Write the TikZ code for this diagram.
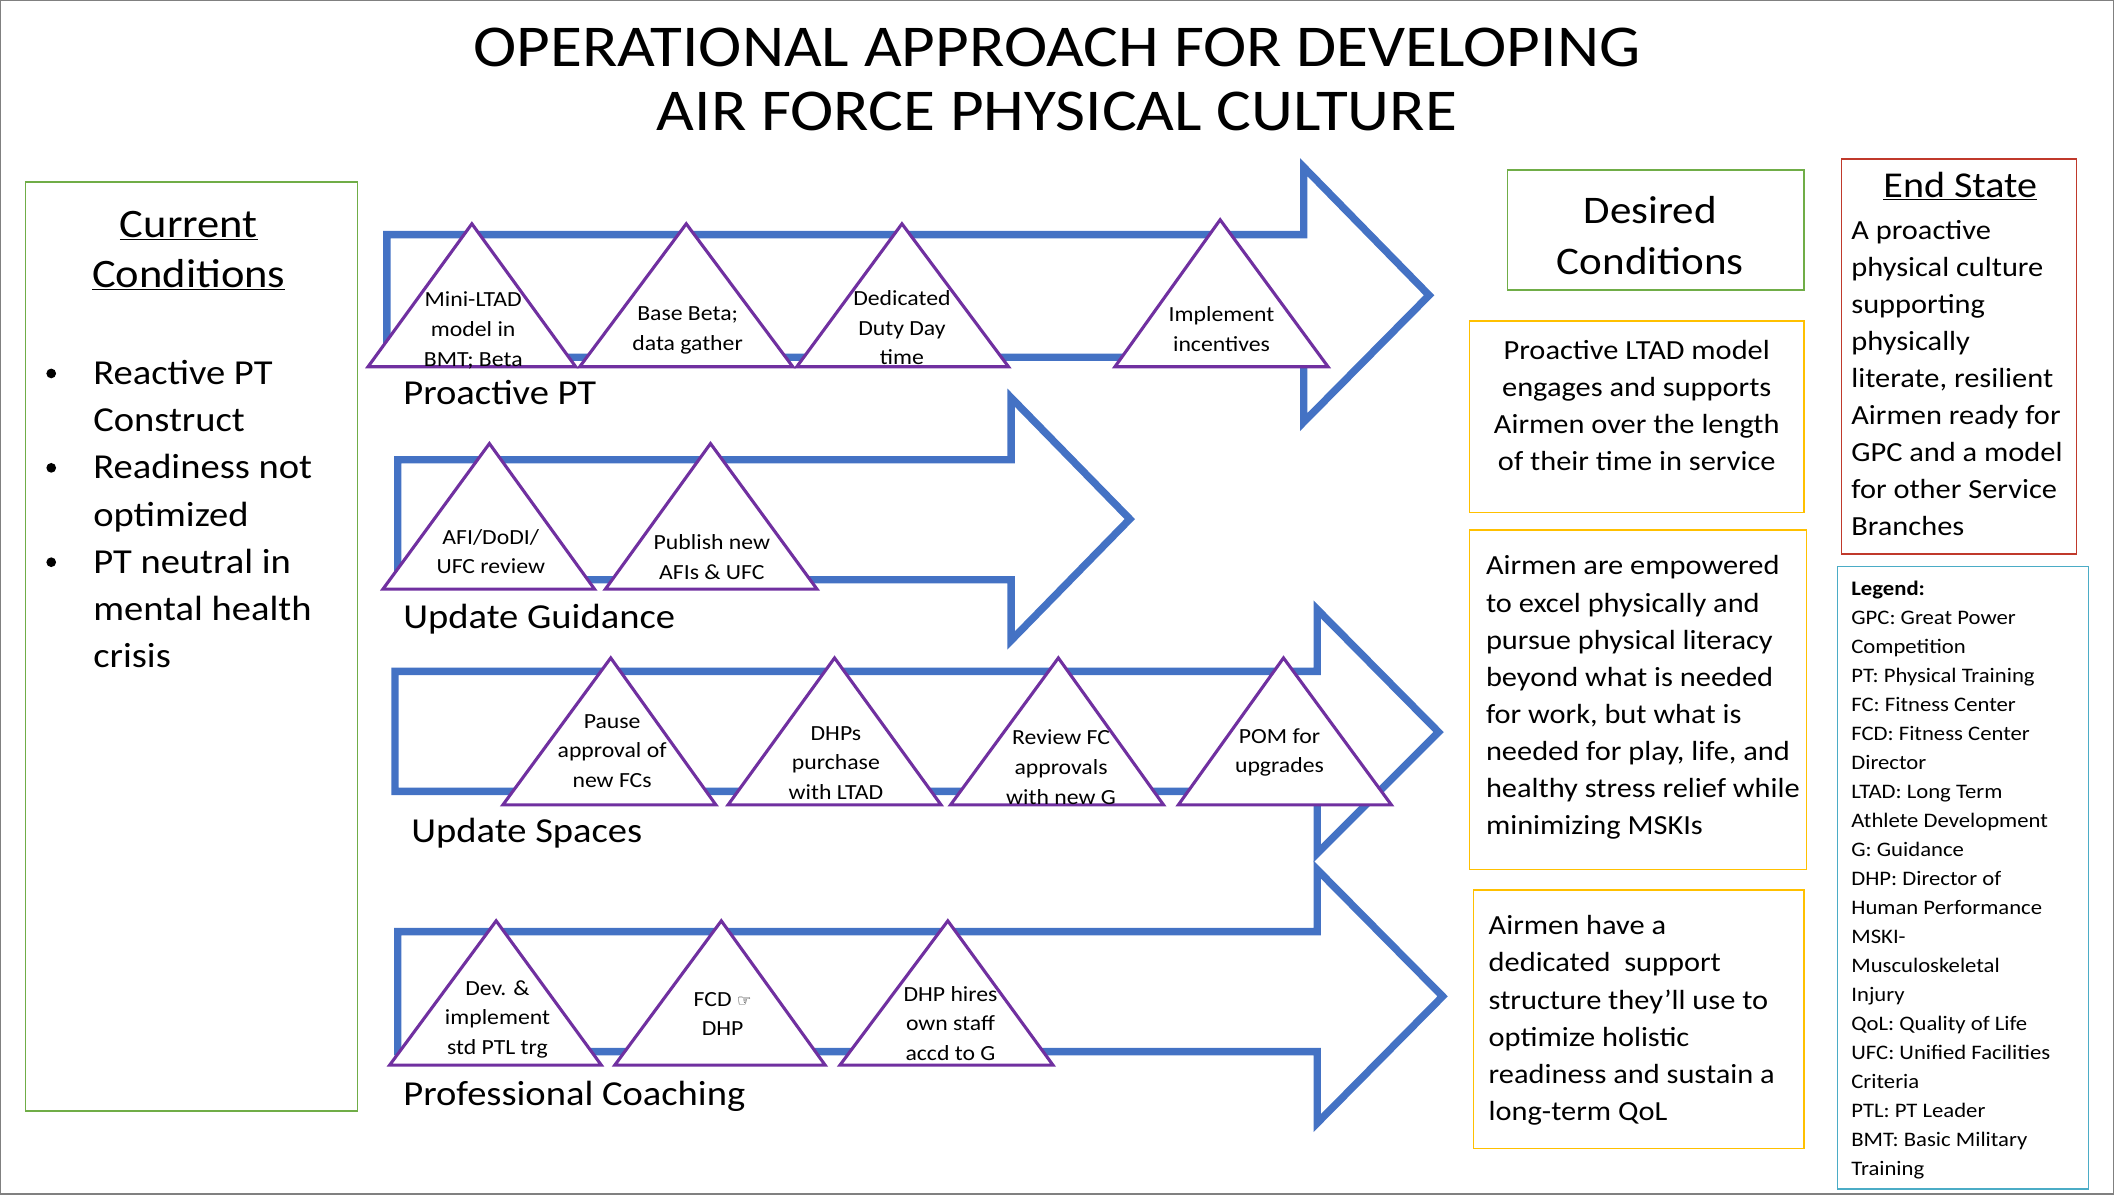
\documentclass[tikz,border=0pt]{standalone}
\usepackage{fontspec}
\setmainfont{Carlito}[FakeStretch=1.1]
\newfontfamily\djfont{DejaVu Sans}
\begin{document}
\begin{tikzpicture}[x=1pt,y=-1pt,
  arr/.style={draw={rgb,255:red,68;green,114;blue,196},line width=5.5pt},
  tri/.style={draw={rgb,255:red,112;green,48;blue,160},line width=2.3pt,fill=white,line join=miter},
  tt/.style={align=center,font=\fontsize{16}{22}\selectfont,inner sep=0pt},
  lab/.style={anchor=west,font=\fontsize{26}{30}\selectfont,inner sep=0pt},
  obox/.style={draw={rgb,255:red,255;green,192;blue,0},line width=1pt},
  btxt/.style={anchor=north west,align=left,font=\fontsize{20.5}{27.5}\selectfont,inner sep=0pt}]
\useasboundingbox (0,0) rectangle (1568,886);
\draw[gray,line width=1pt] (0.5,0.5) rectangle (1567.5,885.5);
\node[font=\fontsize{44}{48}\selectfont,align=center] (title) at (784,59) {OPERATIONAL APPROACH FOR DEVELOPING\\AIR FORCE PHYSICAL CULTURE};
% left box
\draw[draw={rgb,255:red,112;green,173;blue,71},line width=1pt] (19,135) rectangle (265,824);
\node[font=\fontsize{30}{37}\selectfont,align=center] (cc) at (140,186) {\underline{Current}\\\underline{Conditions}};
\node[anchor=north west,align=left,font=\fontsize{26}{35}\selectfont,inner sep=0pt] (bul) at (69,267)
 {Reactive PT\\Construct\\Readiness not\\optimized\\PT neutral in\\mental health\\crisis};
\foreach \yy in {277,347,417} \fill (38,\yy) circle (3.6);
% arrows
\draw[arr] (287,174) -- (967,174) -- (967,124) -- (1060,219) -- (967,313) -- (967,265) -- (287,265) -- cycle;
\draw[arr] (295,341) -- (750,341) -- (750,295) -- (838,385) -- (750,475) -- (750,430) -- (295,430) -- cycle;
\draw[arr] (293,498) -- (977,498) -- (977,452) -- (1067,543) -- (977,633) -- (977,587) -- (293,587) -- cycle;
\draw[arr] (295,691) -- (977,691) -- (977,645) -- (1070,739) -- (977,833) -- (977,780) -- (295,780) -- cycle;
% triangles row1
\draw[tri] (350,166) -- (427,272) -- (273,272) -- cycle;
\draw[tri] (509,166) -- (588,272) -- (430,272) -- cycle;
\draw[tri] (669,166) -- (748,272) -- (591,272) -- cycle;
\draw[tri] (905,163) -- (985,272) -- (827,272) -- cycle;
\node[tt] (t11) at (351,245) {Mini-LTAD\\model in\\BMT; Beta};
\node[tt] (t12) at (510,245) {Base Beta;\\data gather};
\node[tt] (t13) at (669,243) {Dedicated\\Duty Day\\time};
\node[tt] (t14) at (906,244) {Implement\\incentives};
\node[lab] (l1) at (299,291) {Proactive PT};
% row2
\draw[tri] (363,329) -- (441,437) -- (284,437) -- cycle;
\draw[tri] (527,329) -- (606,437) -- (449,437) -- cycle;
\node[tt] (t21) at (364,409) {AFI/DoDI/\\UFC review};
\node[tt] (t22) at (528,413) {Publish new\\AFIs \& UFC};
\node[lab] (l2) at (299,459) {Update Guidance};
% row3
\draw[tri] (453,488) -- (531,597) -- (373,597) -- cycle;
\draw[tri] (619,488) -- (698,597) -- (540,597) -- cycle;
\draw[tri] (785,488) -- (863,597) -- (705,597) -- cycle;
\draw[tri] (952,488) -- (1032,597) -- (874,597) -- cycle;
\node[tt] (t31) at (454,557) {Pause\\approval of\\new FCs};
\node[tt] (t32) at (620,566) {DHPs\\purchase\\with LTAD};
\node[tt] (t33) at (787,569) {Review FC\\approvals\\with new G};
\node[tt] (t34) at (949,558) {POM for\\upgrades};
\node[lab] (l3) at (305,618) {Update Spaces};
% row4
\draw[tri] (368,683) -- (446,790) -- (289,790) -- cycle;
\draw[tri] (535,683) -- (612,790) -- (456,790) -- cycle;
\draw[tri] (703,683) -- (781,790) -- (623,790) -- cycle;
\node[tt] (t41) at (369,756) {Dev. \&\\implement\\std PTL trg};
\node[tt] (t42) at (536,752) {FCD {\djfont\fontsize{12}{22}\selectfont ☞}\\DHP};
\node[tt] (t43) at (705,759) {DHP hires\\own staff\\accd to G};
\node[lab] (l4) at (299,813) {Professional Coaching};
% desired conditions
\draw[draw={rgb,255:red,112;green,173;blue,71},line width=1pt] (1118,126) rectangle (1338,215);
\node[font=\fontsize{29}{38}\selectfont,align=center] (dc) at (1224,175) {Desired\\Conditions};
\draw[obox] (1090,238) rectangle (1338,380);
\node[btxt,anchor=north,align=center] (d1) at (1214,252) {Proactive LTAD model\\engages and supports\\Airmen over the length\\of their time in service};
\draw[obox] (1090,393) rectangle (1340,645);
\node[btxt] (d2) at (1102,412) {Airmen are empowered\\to excel physically and\\pursue physical literacy\\beyond what is needed\\for work, but what is\\needed for play, life, and\\healthy stress relief while\\minimizing MSKIs};
\draw[obox] (1093,660) rectangle (1338,852);
\node[btxt] (d3) at (1104,679) {Airmen have a\\dedicated\ \ support\\structure they’ll use to\\optimize holistic\\readiness and sustain a\\long-term QoL};
% end state
\draw[draw={rgb,255:red,192;green,57;blue,43},line width=1pt] (1366,118) rectangle (1540,411);
\node[font=\fontsize{27}{30}\selectfont] (es) at (1454,138) {\underline{End State}};
\node[btxt] (est) at (1373,163) {A proactive\\physical culture\\supporting\\physically\\literate, resilient\\Airmen ready for\\GPC and a model\\for other Service\\Branches};
% legend
\draw[draw={rgb,255:red,75;green,172;blue,198},line width=1pt] (1363,420) rectangle (1549,882);
\node[anchor=north west,align=left,font=\fontsize{15.3}{21.5}\selectfont,inner sep=0pt] (leg) at (1373,431)
 {\textbf{Legend:}\\GPC: Great Power\\Competition\\PT: Physical Training\\FC: Fitness Center\\FCD: Fitness Center\\Director\\LTAD: Long Term\\Athlete Development\\G: Guidance\\DHP: Director of\\Human Performance\\MSKI-\\Musculoskeletal\\Injury\\QoL: Quality of Life\\UFC: Unified Facilities\\Criteria\\PTL: PT Leader\\BMT: Basic Military\\Training};
\end{tikzpicture}
\end{document}
